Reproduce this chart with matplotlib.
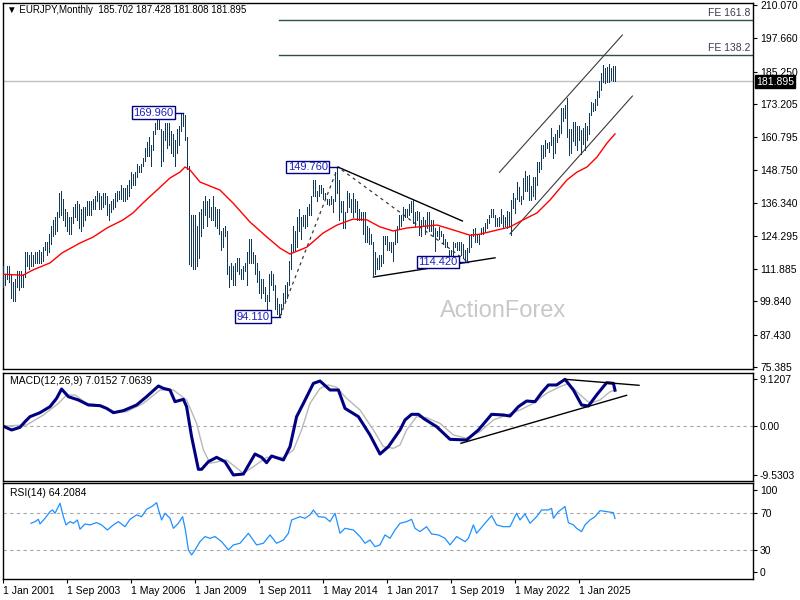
import matplotlib
matplotlib.use("Agg")
import matplotlib.pyplot as plt
from matplotlib.transforms import blended_transform_factory

plt.rcParams['font.family'] = ['Liberation Sans', 'DejaVu Sans']

BAR = '#123a58'
NAVY = '#000080'

# monthly high / low, month 0 = Jan 2001 ... month 306 = Jul 2026
highs = [
    113, 110, 113, 113, 110, 107, 108, 111, 111, 111, 110, 118,      # 2001
    118, 117, 118, 117, 118, 118, 119, 118, 120, 122, 122, 125,      # 2002
    128, 130, 131, 133, 140, 141, 138, 134, 133, 131, 131, 135,      # 2003
    136, 137, 136, 134, 135, 135, 137, 137, 137, 138, 139, 141,      # 2004
    140, 139, 140, 140, 139, 136, 137, 138, 140, 141, 141, 143,      # 2005
    142, 142, 143, 145, 148, 147, 148, 151, 150, 151, 153, 157,      # 2006
    159, 161, 158, 163, 166, 168, 169, 164, 163, 166, 166, 166,      # 2007
    163, 162, 160, 164, 165, 169.5, 169.96, 169, 161, 150, 132, 132, # 2008
    132, 128, 133, 134, 137, 139, 137, 138, 135, 139, 135, 134,      # 2009
    134, 126, 127, 128, 126, 113, 114, 113, 114, 116, 116, 112,      # 2010
    113, 114, 118, 123, 123, 118, 117, 114, 111, 108, 108, 105,      # 2011
    102, 110, 111, 110, 106, 101, 99, 99, 103, 106, 107, 115,        # 2012
    121, 128, 126, 131, 134, 131, 132, 132, 135, 136, 139, 145,      # 2013
    145, 141, 143, 143, 142, 140, 138, 138, 139, 138, 148, 149.76,   # 2014
    145, 137, 137, 133, 141, 140, 138, 140, 138, 137, 134, 133,      # 2015
    133, 133, 128, 127, 125, 122, 118, 116, 117, 117, 124, 124,      # 2016
    124, 122, 122, 122, 126, 128, 132, 132, 135, 134, 134, 136,      # 2017
    137, 137.5, 133, 133.5, 133, 130, 131, 130, 133, 133, 130, 130,  # 2018
    127, 126, 127.5, 126, 125, 123, 122, 119, 119, 122, 121.5, 122,  # 2019
    122, 122, 121, 119, 119.5, 124.4, 125, 126.8, 127, 125, 125, 127,  # 2020
    127.5, 129, 130.5, 132, 134, 134, 132, 130.7, 131, 134, 132, 131,  # 2021
    133.4, 133.2, 137.5, 140, 138.3, 144.2, 142.3, 138.9, 145.6, 148.4, 146.3, 146.7,  # 2022
    142.9, 146, 146, 151.6, 151.6, 158, 158, 159.8, 158.6, 159, 164.3, 161,            # 2023
    162, 163.7, 165.4, 171.6, 171.6, 173, 175.4, 164, 164, 166.7, 166.7, 164.9,        # 2024
    164.9, 163.5, 164.2, 166, 165, 169.7, 173.9, 173.5, 175, 178, 181.7, 184.9,        # 2025
    187.7, 186.6, 187.1, 188.2, 186.5, 187.2, 187.428,                                 # 2026
]
lows = [
    105, 106, 108, 107, 101, 100, 100, 105, 104, 105, 105, 109,
    113, 112, 113, 113, 114, 114, 114, 114, 115, 119, 117, 118,
    121, 124, 125, 126, 131, 132, 130, 128, 126, 125, 125, 129,
    131, 130, 127, 126, 128, 130, 132, 132, 132, 134, 134, 137,
    134, 134, 135, 136, 132, 130, 133, 134, 135, 137, 138, 138,
    137, 137, 138, 139, 142, 143, 143, 146, 148, 148, 150, 152,
    154, 154, 150, 156, 162, 164, 164, 150, 152, 160, 157, 158,
    155, 154, 150, 155, 158, 163, 165, 160, 149, 113.6, 113, 112,
    112, 113, 116, 124, 127, 132, 128, 131, 130, 130, 128, 127,
    125, 119, 120, 124, 110, 105, 108, 106, 106, 111, 110, 108,
    108, 111, 106, 114, 114, 114, 110, 107, 103, 101, 103, 100,
    97, 100, 106, 104, 97, 95, 94.11, 95, 98, 100, 101, 106,
    112, 118, 119, 120, 126, 123, 128, 127, 128, 132, 132, 139,
    139, 137, 139, 140, 138, 137.7, 136, 135.7, 136, 133, 137, 140,
    130, 133, 127, 127, 133, 135, 133, 131, 133, 130, 130, 130,
    125, 122, 122, 121, 121, 109.5, 110, 112, 112, 113, 114, 121,
    119, 119, 118, 115, 121, 122, 127, 128, 130, 131, 131, 132,
    133, 129, 128, 130, 124.6, 124, 128, 125, 127, 126, 126, 124,
    118.7, 124, 123, 124, 121, 120, 120, 115.9, 116, 117, 120, 119,
    119, 117, 115.9, 115, 114.42, 118, 120, 124, 122, 122, 121, 124.7,
    125, 125.6, 127, 129, 131, 131, 128, 128, 127.9, 129, 127, 128,
    127, 128, 124.4, 134.6, 132.7, 138, 137, 135.9, 138, 141, 140.7, 137.4,
    137.4, 139, 138, 143, 148, 149, 153, 154, 157, 155.3, 158, 153,
    155, 159, 161, 162.5, 167, 168, 161, 154.4, 155, 159.5, 158, 156,
    160, 154.8, 158.3, 156, 159.8, 162, 169, 170.6, 171, 173, 176, 178.4,
    181.5, 181.0, 181.5, 181.5, 182.2, 181.9, 181.808,
]
months = list(range(len(highs)))

# red moving average, sampled off the chart
ma_month = [0, 10, 15, 23.5, 29.5, 38.5, 45, 52, 60, 65, 70, 77, 83.5, 88.5, 91, 93.5,
            98.5, 108.5, 115, 123.5, 132, 138.5, 143.5, 152, 160, 167, 175, 182, 188.5,
            195, 202, 217, 225, 233.5, 238.5, 253.5, 260, 267, 273.5, 282, 287, 292,
            297, 302, 306]
ma_val = [109.9, 109.5, 111.5, 114.1, 117.8, 121.5, 123.7, 127.1, 130.1, 132.7, 136.4,
          141.2, 145.7, 147.9, 149.8, 148.7, 144.2, 141.2, 136.4, 129.3, 123.7, 119.6,
          117.4, 120.0, 125.2, 128.2, 130.4, 130.1, 127.5, 126.0, 127.1, 128.2, 126.4,
          124.4, 124.8, 127.5, 130.1, 132.7, 137.5, 145.0, 147.9, 149.8, 153.5, 158.7,
          162.1]

# MACD main / signal
macd_m = [0, 4.3, 8.5, 11, 13.5, 18.5, 23.5, 26.8, 29.3, 32.7, 37.7, 42.7, 48.5, 51.8,
          55.2, 60.2, 66.8, 71.8, 77.7, 80.2, 83.5, 86, 90.2, 91.8, 94.3, 97.7, 99.3,
          102.7, 106.8, 111, 115.2, 120.2, 126, 129.3, 131.8, 134.3, 140.2, 143.5,
          146.8, 150.2, 155.2, 158.5, 163.5, 167.7, 171, 177.7, 183.5, 188.5, 192.7,
          198.5, 201, 204.3, 207.7, 210.2, 216.8, 223.5, 231.8, 237.7, 244.3, 250.2,
          253.5, 257.7, 261.8, 266, 269.3, 272.7, 276.8, 281, 285.2, 289.3, 292.7,
          296.8, 301.8, 305.2, 306]
macd_v = [0, -0.78, -0.26, 0.85, 1.83, 2.61, 3.79, 5.42, 7.25, 5.75, 5.1, 4.12, 3.99,
          3.46, 2.61, 3.01, 4.12, 5.75, 7.84, 7.38, 7.06, 4.77, 5.23, 3.79, -2.09, -8.49,
          -8.49, -6.99, -6.14, -7.0, -9.6, -9.41, -5.49, -6.14, -7.19, -5.88, -6.66,
          -4.05, 1.83, 4.44, 8.36, 8.82, 7.06, 7.06, 3.46, 1.83, -1.76, -5.49, -4.05,
          -0.78, 1.18, 2.29, 2.29, 1.5, -0.13, -2.61, -2.74, -0.78, 2.29, 2.16, 1.96,
          3.79, 4.9, 4.77, 6.53, 8.04, 8.04, 9.15, 7.06, 4.12, 3.92, 6.08, 8.49, 8.36,
          7.02]
sig_m = [0, 11.8, 20.2, 27.7, 31.8, 36, 41.8, 48.5, 56, 61.8, 70.2, 78.5, 85.2, 91.8,
         96.8, 100.2, 103.5, 111.8, 120.2, 125.2, 131.8, 140.2, 145.2, 149.3, 153.5,
         158.5, 162.7, 166.8, 171.8, 178.5, 185.2, 190.2, 195.2, 198.5, 201.8, 206.8,
         211.8, 218.5, 225.2, 231.8, 238.5, 245.2, 251.8, 258.5, 265.2, 271.8, 278.5,
         282.7, 287.7, 293.5, 298.5, 303.5, 306]
sig_v = [0, 0.2, 2.16, 4.44, 6.08, 6.08, 4.44, 4.12, 2.8, 2.8, 4.44, 7.06, 7.06, 5.1,
         0.52, -4.7, -7.3, -6.66, -9.28, -7.97, -6.14, -6.14, -4.7, -0.78, 4.44, 7.38,
         8.04, 7.58, 5.42, 3.14, -0.78, -4.05, -4.37, -3.72, -0.78, 1.83, 1.63, 0.52,
         -1.76, -2.41, -1.11, 1.18, 2.16, 3.14, 4.44, 6.41, 7.7, 8.36, 6.41, 4.44, 5.1,
         6.72, 7.06]

# RSI(14)
rsi_m = [14, 16, 17.7, 18.5, 21, 23.5, 24.8, 26, 28.5, 30.2,
         31.5, 33.5, 35.2, 37.2, 38.5, 41, 43.5, 46.8, 49.3, 52.2,
         55.2, 57.7, 61, 63.5, 66.8, 69.3, 71.8, 74.8, 76.8, 77.7,
         79.3, 81, 83.5, 85.2, 87.7, 89.8, 91.2, 92.7, 94.3, 96,
         98.5, 101, 103.5, 106, 109.3, 112.7, 115.2, 118.5, 122.7, 126.8,
         130.2, 133.5, 136.8, 140.2, 142.7, 144.3, 148.5, 151, 153.5, 155.2,
         157.7, 161, 163.5, 166, 168.5, 171, 175.2, 178.5, 181, 183.5,
         186, 188.5, 191, 193.5, 196, 198.5, 201.8, 204.3, 206, 208.5,
         211.8, 214.3, 217.7, 221, 223.5, 226.8, 231, 232.7, 235.2, 236.8,
         241, 244.3, 246.8, 250.2, 253.5, 256.8, 258.5, 261, 263.5, 266.8,
         269.3, 272.7, 274.3, 275.2, 277.7, 281, 282.7, 285.2, 286.8, 289.3,
         291, 293.5, 296, 298.5, 301.8, 305.2, 306]
rsi_v = [59.1, 60.9, 63.4, 58.4, 64.5, 71.8, 73.6, 70, 80.9, 66.3,
         57.3, 60.9, 59.1, 62.7, 52.6, 58.4, 57.3, 59.8, 57.3, 51.8,
         57.3, 60.9, 55.4, 63.4, 68.2, 66.3, 74.3, 78, 81.6, 74.3,
         62.7, 70, 64.5, 53.6, 59.1, 66.3, 51.8, 30, 24.6, 30,
         39.1, 44.6, 42.7, 44.6, 39.1, 30, 35.5, 37.3, 48.2, 35.5,
         37.3, 46.4, 37.3, 40.9, 48.2, 62.7, 66.3, 64.5, 68.2, 73.6,
         66.3, 65.6, 60.9, 70, 48.2, 53.6, 51.8, 44.6, 37.3, 40.9,
         33.6, 35.5, 46.4, 42.7, 51.8, 59.1, 60.9, 63.4, 53.6, 50,
         55.4, 47.4, 46.4, 42.7, 35.5, 44.6, 39.1, 42.7, 57.3, 48.2,
         59.1, 67.4, 57.3, 55.4, 55.4, 70, 62.7, 69.3, 59.1, 66.3,
         73.6, 73.6, 75.4, 64.5, 71.8, 77.3, 59.8, 57.3, 53.6, 50,
         57.3, 62.7, 66.3, 72.9, 71.8, 70.7, 64.2]

last_close = 181.895
fe_levels = [191.33, 204.46]
fe_names = ['FE 138.2', 'FE 161.8']
pivots = [(90, 169.96, 85.3), (167.5, 149.76, 162.3), (138.5, 94.11, 133.2), (232.5, 114.42, 227.2)]

price_ticks = [210.070, 197.660, 185.250, 173.205, 160.795, 148.750, 136.340, 124.295,
               111.885, 99.840, 87.430, 75.385]
price_tick_labels = ['210.070', '197.660', '185.250', '173.205', '160.795', '148.750',
                     '136.340', '124.295', '111.885', '99.840', '87.430', '75.385']
date_ticks = [0, 32, 64, 96, 128, 160, 192, 224, 256, 288]
date_labels = ['1 Jan 2001', '1 Sep 2003', '1 May 2006', '1 Jan 2009', '1 Sep 2011',
               '1 May 2014', '1 Jan 2017', '1 Sep 2019', '1 May 2022', '1 Jan 2025']

W, H = 800, 600
fig = plt.figure(figsize=(8, 6), dpi=100)


def box(top, bottom):
    return [2.5 / W, 1 - bottom / H, 750.5 / W, (bottom - top) / H]


ax1 = fig.add_axes(box(3, 369))
ax2 = fig.add_axes(box(372.7, 481))
ax3 = fig.add_axes(box(483.3, 579.3))
XLIM = (-0.25, 375)

for ax in (ax1, ax2, ax3):
    ax.set_xlim(*XLIM)
    ax.yaxis.tick_right()
    ax.tick_params(axis='y', labelsize=7.5, length=3, pad=2, colors='black')
    for s in ax.spines.values():
        s.set_linewidth(1.0)
        s.set_color('black')
for ax in (ax1, ax2):
    ax.set_xticks([])

# ---- price panel ----
ax1.set_ylim(74.63, 210.81)
ax1.axhline(last_close, color='#c0c0c0', lw=1.0, zorder=1)
ax1.vlines(months, lows, highs, color=BAR, lw=0.55, antialiased=False, zorder=3)
ax1.plot(ma_month, ma_val, color='red', lw=1.0, zorder=4)

for lvl, name in zip(fe_levels, fe_names):
    ax1.plot([138, XLIM[1]], [lvl, lvl], color='#2f4f4f', lw=1.0, zorder=2)
    ax1.text(373.5, lvl + 0.9, name, ha='right', va='bottom', fontsize=7.5, color='#3a3a50')

ax1.plot([248.2, 309.7], [147.8, 198.9], color='#3a3a3a', lw=0.8, zorder=2)
ax1.plot([253.5, 314.7], [124.9, 176.2], color='#3a3a3a', lw=0.8, zorder=2)
ax1.plot([167.5, 229.7], [149.76, 129.7], color='black', lw=1.0, zorder=2)
ax1.plot([185.2, 246], [108.85, 116.0], color='black', lw=1.0, zorder=2)
ax1.plot([138.5, 167.5, 232.5], [94.11, 149.76, 114.42], color='#3a3a3a', lw=0.9,
         ls=(0, (2.5, 3)), zorder=2)

for bx, val, tx in pivots:
    ax1.plot([tx, bx], [val, val], color=NAVY, lw=1.0, zorder=5)
    ax1.text(tx, val, f'{val:.3f}', ha='right', va='center', fontsize=8, color='#2020c0',
             zorder=6, bbox=dict(boxstyle='square,pad=0.12', fc='white', ec=NAVY, lw=1.0))

ax1.text(250, 96.2, 'ActionForex', ha='center', va='center', fontsize=17, color='#c8c8c8',
         zorder=0)

ax1.set_yticks(price_ticks)
ax1.set_yticklabels(price_tick_labels)
tr = blended_transform_factory(ax1.transAxes, ax1.transData)
ax1.text(1.004, last_close - 0.3, '181.895', transform=tr, ha='left', va='center',
         fontsize=7.5, color='white', clip_on=False, zorder=10,
         bbox=dict(boxstyle='square,pad=0.12', fc='black', ec='black'))

fig.text(7 / W, 1 - 10 / H, '\u25bc EURJPY,Monthly  185.702 187.428 181.808 181.895',
         ha='left', va='center', fontsize=7, color='black')

# ---- MACD panel ----
ax2.set_ylim(-10.78, 10.45)
ax2.axhline(0, color='#a8a8a8', lw=0.8, ls=(0, (3, 3)))
ax2.plot(sig_m, sig_v, color='#b8b8b8', lw=1.0)
ax2.plot(macd_m, macd_v, color=NAVY, lw=2.2)
ax2.plot([281.3, 318], [9.15, 7.98], color='black', lw=1.0)
ax2.plot([229, 311.8], [-3.39, 6.02], color='black', lw=1.0)
ax2.set_yticks([9.1207, 0, -9.5303])
ax2.set_yticklabels(['9.1207', '0.00', '-9.5303'])
ax2.text(7 / 750.5, 0.92, 'MACD(12,26,9) 7.0152 7.0639', transform=ax2.transAxes,
         ha='left', va='center', fontsize=7.5)

# ---- RSI panel ----
ax3.set_ylim(-2, 102.7)
for lvl in (70, 30):
    ax3.axhline(lvl, color='#a8a8a8', lw=0.8, ls=(0, (3, 3)))
ax3.plot(rsi_m, rsi_v, color='#1e90ff', lw=0.9)
ax3.set_yticks([95.4, 70, 30, 5.7])
ax3.set_yticklabels(['100', '70', '30', '0'])
ax3.text(7 / 750.5, 0.9, 'RSI(14) 64.2084', transform=ax3.transAxes,
         ha='left', va='center', fontsize=7.5)
ax3.set_xticks(date_ticks)
ax3.set_xticklabels(date_labels)
ax3.tick_params(axis='x', labelsize=7.5, length=3, pad=2)
for lbl in ax3.get_xticklabels():
    lbl.set_ha('left')

fig.savefig('out.png', dpi=100, facecolor='white')
